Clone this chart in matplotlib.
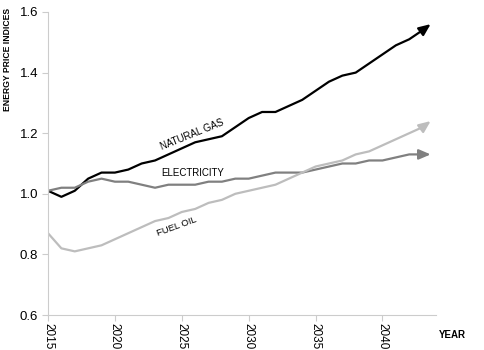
import matplotlib
matplotlib.use('Agg')
import matplotlib.pyplot as plt

plt.rcParams['font.family'] = ['Liberation Sans', 'DejaVu Sans']

# yearly values, last point is where the arrow tip sits
years = [2015, 2016, 2017, 2018, 2019, 2020, 2021, 2022, 2023, 2024, 2025,
         2026, 2027, 2028, 2029, 2030, 2031, 2032, 2033, 2034, 2035, 2036,
         2037, 2038, 2039, 2040, 2041, 2042, 2043, 2043.6]
natural_gas = [1.01, 0.99, 1.01, 1.05, 1.07, 1.07, 1.08, 1.10, 1.11, 1.13, 1.15,
               1.17, 1.18, 1.19, 1.22, 1.25, 1.27, 1.27, 1.29, 1.31, 1.34, 1.37,
               1.39, 1.40, 1.43, 1.46, 1.49, 1.51, 1.54, 1.56]
electricity = [1.01, 1.02, 1.02, 1.04, 1.05, 1.04, 1.04, 1.03, 1.02, 1.03, 1.03,
               1.03, 1.04, 1.04, 1.05, 1.05, 1.06, 1.07, 1.07, 1.07, 1.08, 1.09,
               1.10, 1.10, 1.11, 1.11, 1.12, 1.13, 1.13, 1.13]
fuel_oil = [0.87, 0.82, 0.81, 0.82, 0.83, 0.85, 0.87, 0.89, 0.91, 0.92, 0.94,
            0.95, 0.97, 0.98, 1.00, 1.01, 1.02, 1.03, 1.05, 1.07, 1.09, 1.10,
            1.11, 1.13, 1.14, 1.16, 1.18, 1.20, 1.22, 1.24]

series = [("NATURAL GAS", natural_gas, "black"),
          ("ELECTRICITY", electricity, "#808080"),
          ("FUEL OIL", fuel_oil, "#bdbdbd")]

fig = plt.figure(figsize=(4.85, 3.5), dpi=100)
ax = fig.add_axes([48/485, 35/350, 388/485, 303/350])

for name, vals, col in series:
    ax.plot(years[:-1], vals[:-1], color=col, lw=1.6, solid_capstyle='round',
            solid_joinstyle='round')
    ax.annotate("", xy=(years[-1], vals[-1]), xytext=(years[-2], vals[-2]),
                arrowprops=dict(arrowstyle="-|>,head_length=0.7,head_width=0.3",
                                color=col, lw=1.6, shrinkA=0, shrinkB=0))

ax.set_xlim(2015, 2044)
ax.set_ylim(0.6, 1.6)
ax.set_xticks([2015, 2020, 2025, 2030, 2035, 2040])
ax.set_yticks([0.6, 0.8, 1.0, 1.2, 1.4, 1.6])
ax.set_yticklabels(["0.6", "0.8", "1.0", "1.2", "1.4", "1.6"])
ax.tick_params(axis='x', labelrotation=270, labelsize=8.5, length=4, color='#cccccc', pad=2)
ax.tick_params(axis='y', labelsize=9.5, length=4, color='#cccccc', pad=3)
for s in ['top', 'right']:
    ax.spines[s].set_visible(False)
for s in ['left', 'bottom']:
    ax.spines[s].set_color('#cccccc')

ax.text(2025.8, 1.196, "NATURAL GAS", fontsize=7, rotation=22, ha='center', va='center')
ax.text(2025.8, 1.069, "ELECTRICITY", fontsize=7, rotation=0, ha='center', va='center')
ax.text(2024.6, 0.893, "FUEL OIL", fontsize=6.8, rotation=20, ha='center', va='center')

fig.text(8/485, 1 - 8/350, "ENERGY PRICE INDICES", rotation=90, fontsize=6.2,
         fontweight='bold', ha='center', va='top')
fig.text(452/485, 1 - 335/350, "YEAR", fontsize=7, fontweight='bold', ha='center', va='center')

fig.savefig("out.png", dpi=100)
